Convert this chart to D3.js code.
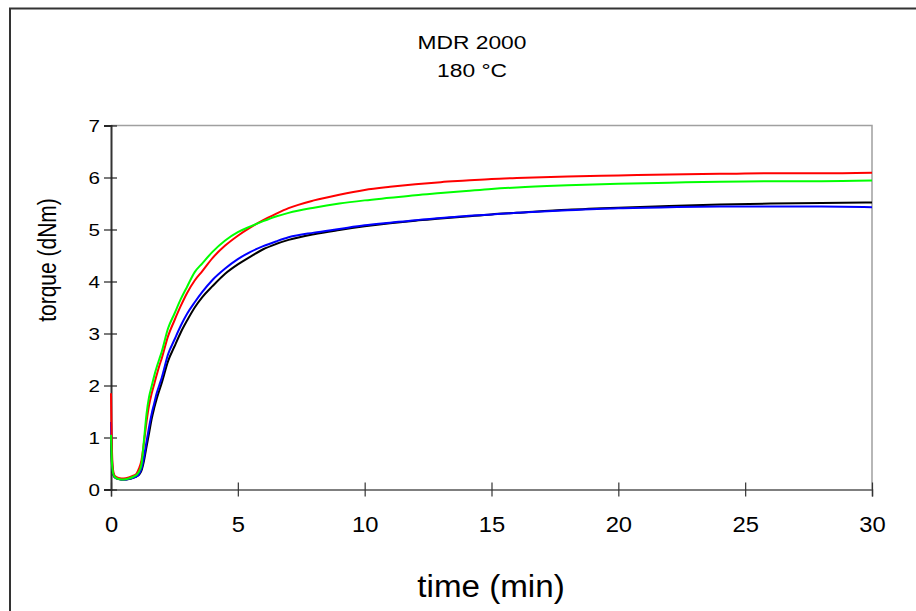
<!DOCTYPE html>
<html>
<head>
<meta charset="utf-8">
<script src="https://cdn.jsdelivr.net/npm/d3@7"></script>
<style>
  body { margin: 0; background: #fff; }
  text { font-family: Arial, "Liberation Sans", sans-serif; fill: #000; }
</style>
</head>
<body>
<div id="chart"></div>
<script>
// time axis (min)
var time = [0, 0.03, 0.08, 0.15, 0.3, 0.5, 0.7, 0.9, 1.0, 1.1, 1.2, 1.3, 1.4, 1.5, 1.6, 1.7, 1.8, 1.9, 2.0,
  2.25, 2.5, 2.75, 3.0, 3.3, 3.6, 4.0, 4.5, 5.0, 5.5, 6, 6.5, 7, 8, 9, 10, 11, 12, 13, 14, 15, 16, 18, 20, 22, 24, 26, 28, 30];

// torque readings (dNm) for each curve
var redTorque = [1.85, 0.9, 0.38, 0.26, 0.22, 0.21, 0.23, 0.27, 0.3, 0.4, 0.56, 0.9, 1.3, 1.62, 1.84, 2.02, 2.2, 2.37, 2.52,
  2.95, 3.25, 3.53, 3.78, 4.02, 4.2, 4.45, 4.69, 4.88, 5.04, 5.18, 5.3, 5.41, 5.56, 5.67, 5.76, 5.82, 5.87, 5.91, 5.94, 5.97, 5.99, 6.02, 6.04, 6.06, 6.07, 6.08, 6.08, 6.09];
var greenTorque = [1.05, 0.6, 0.32, 0.24, 0.2, 0.19, 0.21, 0.25, 0.28, 0.34, 0.48, 0.95, 1.45, 1.78, 1.98, 2.18, 2.35, 2.5, 2.65,
  3.1, 3.38, 3.66, 3.9, 4.18, 4.35, 4.57, 4.79, 4.95, 5.06, 5.16, 5.25, 5.32, 5.42, 5.5, 5.56, 5.61, 5.66, 5.7, 5.74, 5.78, 5.81, 5.85, 5.88, 5.9, 5.92, 5.93, 5.93, 5.94];
var blueTorque = [1.3, 0.7, 0.33, 0.24, 0.2, 0.19, 0.2, 0.23, 0.25, 0.29, 0.4, 0.62, 0.92, 1.2, 1.45, 1.65, 1.85, 2.0, 2.15,
  2.6, 2.88, 3.15, 3.38, 3.6, 3.8, 4.03, 4.25, 4.43, 4.57, 4.68, 4.77, 4.85, 4.94, 5.01, 5.08, 5.13, 5.18, 5.22, 5.26, 5.29, 5.32, 5.37, 5.41, 5.43, 5.44, 5.44, 5.44, 5.43];
var blackTorque = [0.95, 0.55, 0.3, 0.23, 0.2, 0.19, 0.2, 0.23, 0.25, 0.28, 0.36, 0.55, 0.82, 1.08, 1.35, 1.56, 1.74, 1.9, 2.05,
  2.47, 2.75, 3.02, 3.25, 3.5, 3.7, 3.91, 4.15, 4.33, 4.48, 4.62, 4.72, 4.8, 4.91, 4.99, 5.06, 5.12, 5.17, 5.21, 5.25, 5.29, 5.32, 5.38, 5.42, 5.45, 5.48, 5.5, 5.51, 5.52];

var xTicks = [0, 5, 10, 15, 20, 25, 30];
var yTicks = [0, 1, 2, 3, 4, 5, 6, 7];
var titleLines = ["MDR 2000", "180 °C"];

var series = [
  { color: "#000000", values: blackTorque },
  { color: "#0000ff", values: blueTorque },
  { color: "#ff0000", values: redTorque },
  { color: "#00ff00", values: greenTorque }
];

var W = 916, H = 611;
var margin = { top: 125.5, right: 44, bottom: 121.5, left: 111 };
var width = W - margin.left - margin.right,
    height = H - margin.top - margin.bottom;

var svg = d3.select("#chart").append("svg")
  .attr("width", W)
  .attr("height", H);

// the original text is a bit wider than plain Arial, so stretch it sideways
function stretched(sel, px, py, sx) {
  sel.attr("x", 0).attr("y", 0)
    .attr("transform", "translate(" + px + "," + py + ") scale(" + sx + ",1)");
}

// outer frame (runs off the right and bottom of the picture)
svg.append("rect")
  .attr("x", 10).attr("y", 8.5)
  .attr("width", 940).attr("height", 640)
  .attr("fill", "none")
  .attr("stroke", "#333")
  .attr("stroke-width", 2);

var g = svg.append("g")
  .attr("transform", "translate(" + margin.left + "," + margin.top + ")");

var x = d3.scaleLinear().domain([0, 30]).range([0, width]);
var y = d3.scaleLinear().domain([0, 7]).range([height, 0]);

// plot area top and right borders
g.append("path")
  .attr("d", "M0,0H" + width + "V" + height)
  .attr("fill", "none")
  .attr("stroke", "#a0a0a0")
  .attr("stroke-width", 1.5);

// axes with ticks crossing the axis line
var xAxis = g.append("g")
  .attr("transform", "translate(0," + height + ")")
  .call(d3.axisBottom(x).tickValues(xTicks).tickSize(7).tickPadding(20));
xAxis.selectAll(".tick line").attr("y1", -7);
xAxis.select(".domain").attr("stroke", "#555").attr("stroke-width", 1.5);
xAxis.selectAll(".tick line").attr("stroke", "#333").attr("stroke-width", 1.2);
xAxis.selectAll("text")
  .attr("font-size", 22)
  .attr("font-family", "Arial, 'Liberation Sans', sans-serif")
  .attr("dy", null)
  .each(function() { stretched(d3.select(this), 0, 42, 1.08); });

var yAxis = g.append("g")
  .call(d3.axisLeft(y).tickValues(yTicks).tickFormat(d3.format("d")).tickSize(7).tickPadding(6));
yAxis.selectAll(".tick line").attr("x1", 6);
yAxis.select(".domain").attr("stroke", "#333").attr("stroke-width", 2);
yAxis.selectAll(".tick line").attr("stroke", "#222").attr("stroke-width", 1.2);
yAxis.selectAll("text")
  .attr("font-size", 16.5)
  .attr("font-family", "Arial, 'Liberation Sans', sans-serif")
  .attr("dy", "0.36em")
  .each(function() { stretched(d3.select(this), -11, 0, 1.25); });

var line = d3.line()
  .x(function(d, i) { return x(time[i]); })
  .y(function(d) { return y(d); })
  .curve(d3.curveMonotoneX);

g.selectAll(".curve")
  .data(series)
  .enter().append("path")
  .attr("class", "curve")
  .attr("fill", "none")
  .attr("stroke", function(d) { return d.color; })
  .attr("stroke-width", 2)
  .attr("d", function(d) { return line(d.values); });

// titles
svg.selectAll(".title")
  .data(titleLines)
  .enter().append("text")
  .attr("class", "title")
  .attr("text-anchor", "middle")
  .attr("font-size", 19)
  .text(function(d) { return d; })
  .each(function(d, i) { stretched(d3.select(this), 472, 48.5 + i * 28.5, 1.2); });

svg.append("text")
  .attr("text-anchor", "middle")
  .attr("font-size", 31)
  .text("time (min)")
  .call(stretched, 491, 597, 1.07);

svg.append("text")
  .attr("transform", "translate(56,260) scale(1.2,1) rotate(-90)")
  .attr("text-anchor", "middle")
  .attr("font-size", 21)
  .text("torque (dNm)");
</script>
</body>
</html>
